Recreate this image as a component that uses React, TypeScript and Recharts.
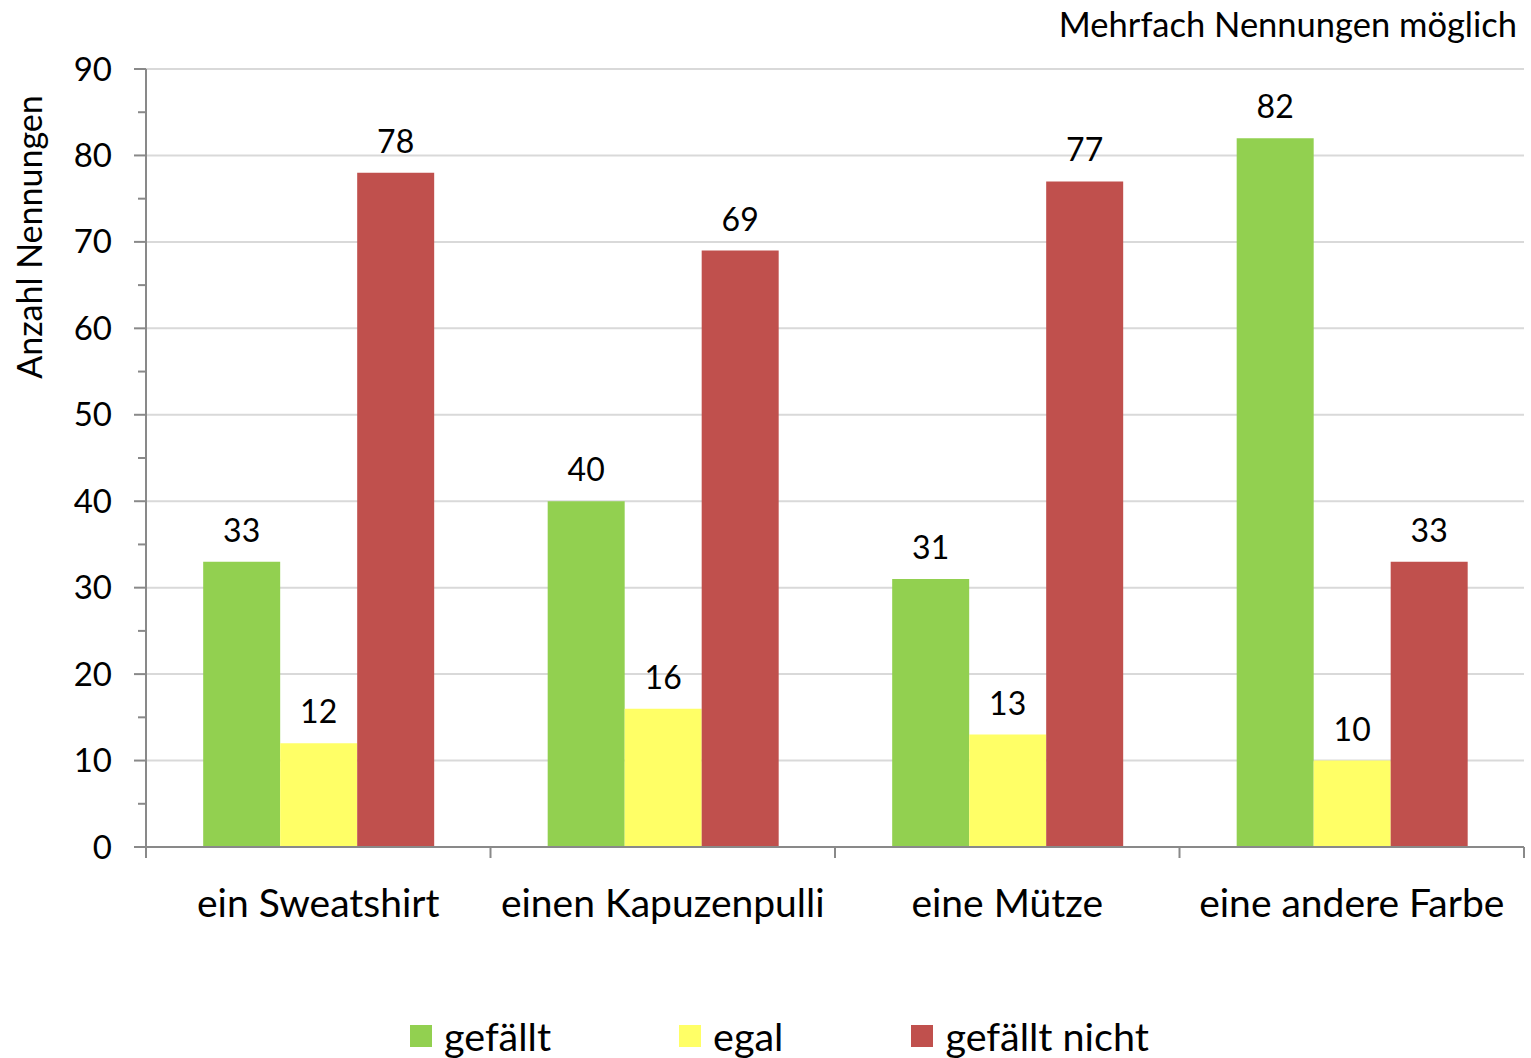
import { BarChart, Bar, XAxis, YAxis, CartesianGrid, LabelList } from "recharts";

// ─── Data ─────────────────────────────────────────────────────────────────────
const CATEGORIES = ["ein Sweatshirt", "einen Kapuzenpulli", "eine Mütze", "eine andere Farbe"];
const GEFAELLT = [33, 40, 31, 82];
const EGAL = [12, 16, 13, 10];
const GEFAELLT_NICHT = [78, 69, 77, 33];
const Y_TICKS = [0, 5, 10, 15, 20, 25, 30, 35, 40, 45, 50, 55, 60, 65, 70, 75, 80, 85, 90];
const GRID_VALUES = [10, 20, 30, 40, 50, 60, 70, 80, 90];

const SERIES = [
  { key: "gefaellt", name: "gefällt", color: "#92D050" },
  { key: "egal", name: "egal", color: "#FFFF66" },
  { key: "nicht", name: "gefällt nicht", color: "#C0504D" },
];

const data = CATEGORIES.map((name, i) => ({
  name,
  gefaellt: GEFAELLT[i],
  egal: EGAL[i],
  nicht: GEFAELLT_NICHT[i],
}));

const FONT = "Lato, 'Open Sans', sans-serif";
const AXIS = "#898989";
const W = 1531;
const H = 1058;
const PLOT_LEFT = 146;
const PLOT_RIGHT = 1524;
const BAND = (PLOT_RIGHT - PLOT_LEFT) / CATEGORIES.length;

// ─── Ticks ────────────────────────────────────────────────────────────────────
const YTick = ({ x, y, payload }: any) => {
  const major = payload.value % 10 === 0;
  return (
    <g>
      <line x1={x - (major ? 12 : 8)} x2={x} y1={y} y2={y} stroke={AXIS} strokeWidth={2} />
      {major && (
        <text x={x - 34} y={y} dy="0.35em" textAnchor="end" fontSize={33} fill="#000" fontFamily={FONT}>
          {payload.value}
        </text>
      )}
    </g>
  );
};

const XTick = ({ x, y, payload, index }: any) => {
  const last = index === CATEGORIES.length - 1;
  return (
    <g>
      <line x1={x - BAND / 2} x2={x - BAND / 2} y1={y} y2={y + 11} stroke={AXIS} strokeWidth={2} />
      {last && <line x1={x + BAND / 2} x2={x + BAND / 2} y1={y} y2={y + 11} stroke={AXIS} strokeWidth={2} />}
      <text x={x} y={y + 56} dy="0.35em" textAnchor="middle" fontSize={39} fill="#000" fontFamily={FONT}>
        {payload.value}
      </text>
    </g>
  );
};

// ─── Legend ───────────────────────────────────────────────────────────────────
const ChartLegend = () => (
  <div
    style={{
      position: "absolute",
      top: 1016,
      left: 410,
      display: "flex",
      alignItems: "center",
      fontFamily: FONT,
      fontSize: 39.5,
      color: "#000",
    }}
  >
    {SERIES.map((s, i) => (
      <div key={s.key} style={{ display: "flex", alignItems: "center", marginRight: i < SERIES.length - 1 ? 128 : 0 }}>
        <span style={{ display: "inline-block", width: 22, height: 22, background: s.color, marginRight: 12 }} />
        <span style={{ lineHeight: "40px" }}>{s.name}</span>
      </div>
    ))}
  </div>
);

// ─── Component ────────────────────────────────────────────────────────────────
export default function App() {
  return (
    <div style={{ position: "absolute", left: 0, top: 0, width: W, height: H, background: "#fff" }}>
      <div
        style={{
          position: "absolute",
          right: W - 1517,
          top: 3,
          fontFamily: FONT,
          fontSize: 34.5,
          color: "#000",
          whiteSpace: "nowrap",
        }}
      >
        Mehrfach Nennungen möglich
      </div>
      <div
        style={{
          position: "absolute",
          left: 28,
          top: 237,
          transform: "translate(-50%, -50%) rotate(-90deg)",
          fontFamily: FONT,
          fontSize: 34,
          color: "#000",
          whiteSpace: "nowrap",
        }}
      >
        Anzahl Nennungen
      </div>
      <BarChart
        width={W}
        height={H}
        data={data}
        margin={{ top: 69, right: W - PLOT_RIGHT, bottom: 131, left: PLOT_LEFT - 100 }}
        barCategoryGap="16.6%"
        barGap={0}
      >
        <CartesianGrid vertical={false} horizontalValues={GRID_VALUES} stroke="#D9D9D9" strokeWidth={2} />
        <YAxis
          width={100}
          domain={[0, 90]}
          ticks={Y_TICKS}
          interval={0}
          tickLine={false}
          tickSize={0}
          tickMargin={0}
          axisLine={{ stroke: AXIS, strokeWidth: 2 }}
          tick={<YTick />}
        />
        <XAxis
          dataKey="name"
          height={80}
          interval={0}
          tickLine={false}
          tickSize={0}
          tickMargin={0}
          axisLine={{ stroke: AXIS, strokeWidth: 2 }}
          tick={<XTick />}
        />
        {SERIES.map((s) => (
          <Bar key={s.key} dataKey={s.key} name={s.name} fill={s.color} isAnimationActive={false}>
            <LabelList
              dataKey={s.key}
              position="top"
              offset={20}
              fontSize={32}
              fill="#000"
              fontFamily={FONT}
            />
          </Bar>
        ))}
      </BarChart>
      <ChartLegend />
    </div>
  );
}
